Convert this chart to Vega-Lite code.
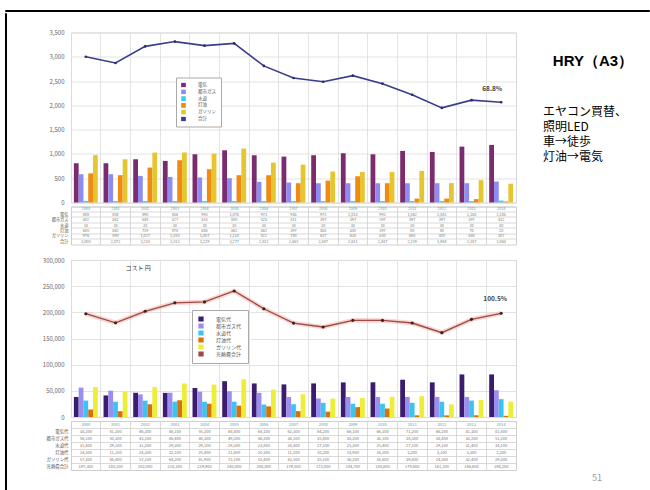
{
  "$schema": "https://vega.github.io/schema/vega-lite/v6.json",
  "padding": {"left": 4, "top": 9, "right": 0, "bottom": 0},
  "background": "white",
  "config": {
    "font": "Noto Sans CJK JP",
    "view": {"stroke": null},
    "axis": {"labelColor": "#666", "gridColor": "#dcdcdc", "gridWidth": 0.8}
  },
  "datasets": {
    "co2": [
      {"year": "2000", "電気": 808, "都市ガス": 582, "水道": 34, "灯油": 600, "ガソリン": 976, "合計": 3000},
      {"year": "2001", "電気": 808, "都市ガス": 582, "水道": 30, "灯油": 562, "ガソリン": 890, "合計": 2872},
      {"year": "2002", "電気": 890, "都市ガス": 548, "水道": 30, "灯油": 719, "ガソリン": 1027, "合計": 3214},
      {"year": "2003", "電気": 856, "都市ガス": 527, "水道": 30, "灯油": 870, "ガソリン": 1030, "合計": 3313},
      {"year": "2004", "電気": 993, "都市ガス": 514, "水道": 30, "灯油": 685, "ガソリン": 1007, "合計": 3229},
      {"year": "2005", "電気": 1075, "都市ガス": 500, "水道": 30, "灯油": 562, "ガソリン": 1110, "合計": 3277},
      {"year": "2006", "電気": 973, "都市ガス": 425, "水道": 30, "灯油": 562, "ガソリン": 822, "合計": 2812},
      {"year": "2007", "電気": 945, "都市ガス": 411, "水道": 30, "灯油": 397, "ガソリン": 780, "合計": 2563},
      {"year": "2008", "電気": 973, "都市ガス": 397, "水道": 30, "灯油": 450, "ガソリン": 637, "合計": 2487},
      {"year": "2009", "電気": 1014, "都市ガス": 397, "水道": 30, "灯油": 540, "ガソリン": 630, "合計": 2611},
      {"year": "2010", "電気": 993, "都市ガス": 397, "水道": 30, "灯油": 397, "ガソリン": 630, "合計": 2447},
      {"year": "2011", "電気": 1062, "都市ガス": 397, "水道": 30, "灯油": 80, "ガソリン": 650, "合計": 2219},
      {"year": "2012", "電気": 1041, "都市ガス": 397, "水道": 30, "灯油": 80, "ガソリン": 400, "合計": 1948},
      {"year": "2013", "電気": 1150, "都市ガス": 397, "水道": 30, "灯油": 70, "ガソリン": 460, "合計": 2107},
      {"year": "2014", "電気": 1185, "都市ガス": 432, "水道": 40, "灯油": 20, "ガソリン": 387, "合計": 2064, "ratio": "68.8%"}
    ],
    "cost": [
      {"year": "2000", "電気代": 38200, "都市ガス代": 56100, "水道代": 31400, "灯油代": 14300, "ガソリン代": 57300, "光熱費合計": 197300},
      {"year": "2001", "電気代": 41200, "都市ガス代": 50300, "水道代": 29100, "灯油代": 11100, "ガソリン代": 48400, "光熱費合計": 180100},
      {"year": "2002", "電気代": 46300, "都市ガス代": 43100, "水道代": 31200, "灯油代": 24300, "ガソリン代": 57100, "光熱費合計": 202000},
      {"year": "2003", "電気代": 46100, "都市ガス代": 46400, "水道代": 29300, "灯油代": 32100, "ガソリン代": 64200, "光熱費合計": 218100},
      {"year": "2004", "電気代": 55200, "都市ガス代": 48300, "水道代": 29100, "灯油代": 25400, "ガソリン代": 61900, "光熱費合計": 219900},
      {"year": "2005", "電気代": 68400, "都市ガス代": 49200, "水道代": 29300, "灯油代": 21800, "ガソリン代": 72100, "光熱費合計": 240800},
      {"year": "2006", "電気代": 64100, "都市ガス代": 46200, "水道代": 23800, "灯油代": 20300, "ガソリン代": 52400, "光熱費合計": 206800},
      {"year": "2007", "電気代": 62300, "都市ガス代": 38100, "水道代": 24400, "灯油代": 11200, "ガソリン代": 43500, "光熱費合計": 179500},
      {"year": "2008", "電気代": 64200, "都市ガス代": 35400, "水道代": 27100, "灯油代": 10200, "ガソリン代": 35100, "光熱費合計": 172000},
      {"year": "2009", "電気代": 66100, "都市ガス代": 38200, "水道代": 25300, "灯油代": 18900, "ガソリン代": 36200, "光熱費合計": 184700},
      {"year": "2010", "電気代": 66300, "都市ガス代": 38100, "水道代": 25400, "灯油代": 16200, "ガソリン代": 38600, "光熱費合計": 184600},
      {"year": "2011", "電気代": 71200, "都市ガス代": 38300, "水道代": 27100, "灯油代": 3200, "ガソリン代": 39800, "光熱費合計": 179600},
      {"year": "2012", "電気代": 66200, "都市ガス代": 38400, "水道代": 29100, "灯油代": 3100, "ガソリン代": 24300, "光熱費合計": 161100},
      {"year": "2013", "電気代": 81300, "都市ガス代": 38200, "水道代": 31400, "灯油代": 3300, "ガソリン代": 32400, "光熱費合計": 186600},
      {"year": "2014", "電気代": 81400, "都市ガス代": 51200, "水道代": 34100, "灯油代": 2200, "ガソリン代": 29300, "光熱費合計": 198200, "ratio": "100.5%"}
    ]
  },
  "spacing": 0,
  "resolve": {"scale": {"x": "independent", "y": "independent", "color": "independent"}},
  "vconcat": [
    {
      "width": 644, "height": 1,
      "view": {"stroke": "#000", "strokeWidth": 1},
      "data": {"values": [{"t": ""}]},
      "mark": {"type": "text", "fontSize": 0},
      "encoding": {"text": {"field": "t"}}
    },
    {
      "spacing": 0,
      "resolve": {"scale": {"x": "independent", "y": "independent", "color": "independent"}},
      "hconcat": [
        {
          "width": 1, "height": 477,
          "view": {"stroke": "#000", "strokeWidth": 1},
          "data": {"values": [{"t": ""}]},
          "mark": {"type": "text", "fontSize": 0},
          "encoding": {"text": {"field": "t"}}
        },
        {
          "spacing": 14.5,
          "resolve": {"scale": {"x": "independent", "y": "independent", "color": "independent"}},
          "vconcat": [
            {
              "width": 1, "height": 1,
              "data": {"values": [{"t": ""}]},
              "mark": {"type": "text", "fontSize": 0},
              "encoding": {"text": {"field": "t"}}
            },
            {
              "spacing": 26,
              "resolve": {"scale": {"x": "independent", "y": "independent", "color": "independent"}},
              "hconcat": [
                {
                  "spacing": 10.5,
                  "resolve": {"scale": {"x": "independent", "y": "independent", "color": "independent", "xOffset": "independent"}, "legend": {"color": "independent"}},
                  "vconcat": [
                    {
                      "spacing": -5.5,
                      "resolve": {"scale": {"x": "independent", "y": "independent", "color": "independent", "xOffset": "independent"}},
                      "vconcat": [
                        {
                          "width": 445, "height": 170,
                          "view": {"stroke": "#d8d8d8"},
                          "data": {"name": "co2"},
                          "layer": [
                            {
                              "transform": [{"fold": ["電気", "都市ガス", "水道", "灯油", "ガソリン"], "as": ["series", "value"]}],
                              "mark": {"type": "bar"},
                              "encoding": {
                                "x": {"field": "year", "type": "ordinal", "scale": {"type": "band", "paddingInner": 0, "paddingOuter": 0}, "axis": {"title": null, "labels": false, "ticks": false, "domain": false, "grid": true, "bandPosition": 0}},
                                "xOffset": {"field": "series", "type": "nominal", "scale": {"domain": ["電気", "都市ガス", "水道", "灯油", "ガソリン"], "paddingInner": 0, "paddingOuter": 0.6}},
                                "y": {"field": "value", "type": "quantitative", "scale": {"domain": [0, 3500], "nice": false}, "axis": {"title": null, "values": [0, 500, 1000, 1500, 2000, 2500, 3000, 3500], "tickCount": 30, "format": ",.0f", "labelOverlap": false, "labelFontSize": 6, "labelPadding": 7, "ticks": false, "domain": false, "minExtent": 63, "maxExtent": 63}},
                                "color": {"field": "series", "type": "nominal", "scale": {"domain": ["電気", "都市ガス", "水道", "灯油", "ガソリン", "合計"], "range": ["#7b2c6e", "#8e8cf2", "#3cd0ee", "#ef8a12", "#e6c630", "#3c3c8c"]}, "legend": {"orient": "none", "legendX": 105, "legendY": 45, "title": null, "symbolType": "square", "symbolSize": 10, "labelFontSize": 4.5, "labelColor": "#555", "labelOffset": 12, "rowPadding": 0.8, "clipHeight": 5, "padding": 5, "labelLimit": 60, "fillColor": "white", "strokeColor": "#aaa"}}
                              }
                            },
                            {
                              "mark": {"type": "line", "strokeWidth": 1.6},
                              "encoding": {
                                "x": {"field": "year", "type": "ordinal"},
                                "y": {"field": "合計", "type": "quantitative", "axis": {"title": null, "values": [0, 500, 1000, 1500, 2000, 2500, 3000, 3500], "tickCount": 30, "format": ",.0f", "labelOverlap": false, "labelFontSize": 6, "labelPadding": 7, "ticks": false, "domain": false, "minExtent": 63, "maxExtent": 63}},
                                "color": {"datum": "合計"}
                              }
                            },
                            {
                              "mark": {"type": "point", "filled": true, "size": 7, "opacity": 1},
                              "encoding": {
                                "x": {"field": "year", "type": "ordinal"},
                                "y": {"field": "合計", "type": "quantitative", "axis": {"title": null, "values": [0, 500, 1000, 1500, 2000, 2500, 3000, 3500], "tickCount": 30, "format": ",.0f", "labelOverlap": false, "labelFontSize": 6, "labelPadding": 7, "ticks": false, "domain": false, "minExtent": 63, "maxExtent": 63}},
                                "color": {"value": "#2a2a70"}
                              }
                            },
                            {
                              "transform": [{"filter": "isValid(datum.ratio)"}],
                              "mark": {"type": "text", "fontSize": 6.5, "fontWeight": "bold", "color": "#444", "dx": -9, "dy": -13},
                              "encoding": {
                                "x": {"field": "year", "type": "ordinal"},
                                "y": {"field": "合計", "type": "quantitative", "axis": {"title": null, "values": [0, 500, 1000, 1500, 2000, 2500, 3000, 3500], "tickCount": 30, "format": ",.0f", "labelOverlap": false, "labelFontSize": 6, "labelPadding": 7, "ticks": false, "domain": false, "minExtent": 63, "maxExtent": 63}},
                                "text": {"field": "ratio"}
                              }
                            }
                          ]
                        },
                        {
                          "width": 445, "height": 38,
                          "view": {"stroke": "#cfcfcf"},
                          "data": {"name": "co2"},
                          "layer": [
                            {
                              "transform": [{"fold": ["電気", "都市ガス", "水道", "灯油", "ガソリン", "合計"], "as": ["series", "value"]}],
                              "mark": {"type": "text", "fontSize": 3.8, "color": "#777"},
                              "encoding": {
                                "x": {"field": "year", "type": "ordinal", "scale": {"type": "band", "paddingInner": 0, "paddingOuter": 0}, "axis": {"title": null, "labels": false, "ticks": false, "domain": false, "grid": true, "bandPosition": 0, "gridColor": "#cfcfcf"}},
                                "y": {"field": "series", "type": "nominal", "scale": {"type": "band", "domain": [" ", "電気", "都市ガス", "水道", "灯油", "ガソリン", "合計"], "paddingInner": 0, "paddingOuter": 0}, "axis": {"title": null, "ticks": false, "domain": false, "grid": true, "bandPosition": 0, "gridColor": "#cfcfcf", "labelFontSize": 4.2, "labelColor": "#555", "labelPadding": 3, "minExtent": 63, "maxExtent": 63}},
                                "text": {"field": "value", "type": "quantitative", "format": ","}
                              }
                            },
                            {
                              "mark": {"type": "text", "fontSize": 3.8, "color": "#4aa8b0"},
                              "encoding": {
                                "x": {"field": "year", "type": "ordinal"},
                                "y": {"datum": " "},
                                "text": {"field": "year"}
                              }
                            }
                          ]
                        }
                      ]
                    },
                    {
                      "spacing": -5.5,
                      "resolve": {"scale": {"x": "independent", "y": "independent", "color": "independent", "xOffset": "independent"}},
                      "vconcat": [
                        {
                          "width": 445, "height": 157,
                          "view": {"stroke": "#d8d8d8"},
                          "data": {"name": "cost"},
                          "layer": [
                            {
                              "transform": [{"fold": ["電気代", "都市ガス代", "水道代", "灯油代", "ガソリン代"], "as": ["series", "value"]}],
                              "mark": {"type": "bar"},
                              "encoding": {
                                "x": {"field": "year", "type": "ordinal", "scale": {"type": "band", "paddingInner": 0, "paddingOuter": 0}, "axis": {"title": null, "labels": false, "ticks": false, "domain": false, "grid": true, "bandPosition": 0}},
                                "xOffset": {"field": "series", "type": "nominal", "scale": {"domain": ["電気代", "都市ガス代", "水道代", "灯油代", "ガソリン代"], "paddingInner": 0, "paddingOuter": 0.6}},
                                "y": {"field": "value", "type": "quantitative", "scale": {"domain": [0, 300000], "nice": false}, "axis": {"title": null, "values": [0, 50000, 100000, 150000, 200000, 250000, 300000], "tickCount": 30, "format": ",.0f", "labelOverlap": false, "labelFontSize": 6, "labelPadding": 7, "ticks": false, "domain": false, "minExtent": 63, "maxExtent": 63}},
                                "color": {"field": "series", "type": "nominal", "scale": {"domain": ["電気代", "都市ガス代", "水道代", "灯油代", "ガソリン代", "光熱費合計"], "range": ["#3b1c6e", "#9a8ef0", "#3cc4f0", "#d9700c", "#eeee38", "#9c4a44"]}, "legend": {"orient": "none", "legendX": 121, "legendY": 50, "title": null, "symbolType": "square", "symbolSize": 14, "labelFontSize": 5, "labelColor": "#555", "labelOffset": 12, "rowPadding": 1, "clipHeight": 6, "padding": 6, "labelLimit": 60, "fillColor": "white", "strokeColor": "#aaa"}}
                              }
                            },
                            {
                              "mark": {"type": "line", "strokeWidth": 4.5, "color": "#f4b4ac", "opacity": 0.55},
                              "encoding": {
                                "x": {"field": "year", "type": "ordinal"},
                                "y": {"field": "光熱費合計", "type": "quantitative", "axis": {"title": null, "values": [0, 50000, 100000, 150000, 200000, 250000, 300000], "tickCount": 30, "format": ",.0f", "labelOverlap": false, "labelFontSize": 6, "labelPadding": 7, "ticks": false, "domain": false, "minExtent": 63, "maxExtent": 63}}
                              }
                            },
                            {
                              "mark": {"type": "line", "strokeWidth": 1.3},
                              "encoding": {
                                "x": {"field": "year", "type": "ordinal"},
                                "y": {"field": "光熱費合計", "type": "quantitative", "axis": {"title": null, "values": [0, 50000, 100000, 150000, 200000, 250000, 300000], "tickCount": 30, "format": ",.0f", "labelOverlap": false, "labelFontSize": 6, "labelPadding": 7, "ticks": false, "domain": false, "minExtent": 63, "maxExtent": 63}},
                                "color": {"datum": "光熱費合計"}
                              }
                            },
                            {
                              "mark": {"type": "point", "filled": true, "size": 10, "opacity": 1},
                              "encoding": {
                                "x": {"field": "year", "type": "ordinal"},
                                "y": {"field": "光熱費合計", "type": "quantitative", "axis": {"title": null, "values": [0, 50000, 100000, 150000, 200000, 250000, 300000], "tickCount": 30, "format": ",.0f", "labelOverlap": false, "labelFontSize": 6, "labelPadding": 7, "ticks": false, "domain": false, "minExtent": 63, "maxExtent": 63}},
                                "color": {"value": "#3a2222"}
                              }
                            },
                            {
                              "transform": [{"filter": "isValid(datum.ratio)"}],
                              "mark": {"type": "text", "fontSize": 6.5, "fontWeight": "bold", "color": "#444", "dx": -6, "dy": -14},
                              "encoding": {
                                "x": {"field": "year", "type": "ordinal"},
                                "y": {"field": "光熱費合計", "type": "quantitative", "axis": {"title": null, "values": [0, 50000, 100000, 150000, 200000, 250000, 300000], "tickCount": 30, "format": ",.0f", "labelOverlap": false, "labelFontSize": 6, "labelPadding": 7, "ticks": false, "domain": false, "minExtent": 63, "maxExtent": 63}},
                                "text": {"field": "ratio"}
                              }
                            },
                            {
                              "data": {"values": [{"label": "コスト 円"}]},
                              "mark": {"type": "text", "fontSize": 6, "color": "#333", "dx": -7},
                              "encoding": {
                                "x": {"datum": "2002"},
                                "y": {"datum": 284000},
                                "text": {"field": "label"}
                              }
                            }
                          ]
                        },
                        {
                          "width": 445, "height": 49,
                          "view": {"stroke": "#cfcfcf"},
                          "data": {"name": "cost"},
                          "layer": [
                            {
                              "transform": [{"fold": ["電気代", "都市ガス代", "水道代", "灯油代", "ガソリン代", "光熱費合計"], "as": ["series", "value"]}],
                              "mark": {"type": "text", "fontSize": 4, "color": "#777"},
                              "encoding": {
                                "x": {"field": "year", "type": "ordinal", "scale": {"type": "band", "paddingInner": 0, "paddingOuter": 0}, "axis": {"title": null, "labels": false, "ticks": false, "domain": false, "grid": true, "bandPosition": 0, "gridColor": "#cfcfcf"}},
                                "y": {"field": "series", "type": "nominal", "scale": {"type": "band", "domain": [" ", "電気代", "都市ガス代", "水道代", "灯油代", "ガソリン代", "光熱費合計"], "paddingInner": 0, "paddingOuter": 0}, "axis": {"title": null, "ticks": false, "domain": false, "grid": true, "bandPosition": 0, "gridColor": "#cfcfcf", "labelFontSize": 4.4, "labelColor": "#555", "labelPadding": 3, "minExtent": 63, "maxExtent": 63}},
                                "text": {"field": "value", "type": "quantitative", "format": ","}
                              }
                            },
                            {
                              "mark": {"type": "text", "fontSize": 4, "color": "#4aa8b0"},
                              "encoding": {
                                "x": {"field": "year", "type": "ordinal"},
                                "y": {"datum": " "},
                                "text": {"field": "year"}
                              }
                            }
                          ]
                        }
                      ]
                    }
                  ]
                },
                {
                  "spacing": 304,
                  "resolve": {"scale": {"x": "independent", "y": "independent"}},
                  "vconcat": [
                    {
                      "spacing": 14.5,
                      "resolve": {"scale": {"x": "independent", "y": "independent"}},
                      "vconcat": [
                        {
                          "width": 100, "height": 57,
                          "data": {"values": [{"label": "HRY（A3）"}]},
                          "mark": {"type": "text", "fontSize": 15, "fontWeight": "bold", "color": "#000", "font": "Liberation Sans"},
                          "encoding": {"text": {"field": "label"}}
                        },
                        {
                          "width": 100, "height": 61,
                          "data": {"values": [
                            {"line": 1, "text": "エヤコン買替、"},
                            {"line": 2, "text": "照明LED"},
                            {"line": 3, "text": "車→徒歩"},
                            {"line": 4, "text": "灯油→電気"}
                          ]},
                          "mark": {"type": "text", "fontSize": 12, "align": "left", "baseline": "middle", "color": "#000"},
                          "encoding": {
                            "x": {"value": 0},
                            "y": {"field": "line", "type": "ordinal", "scale": {"type": "band", "paddingInner": 0, "paddingOuter": 0}, "axis": null},
                            "text": {"field": "text"}
                          }
                        }
                      ]
                    },
                    {
                      "width": 100, "height": 16,
                      "data": {"values": [{"page": "51"}]},
                      "mark": {"type": "text", "fontSize": 9, "color": "#999", "dx": 4},
                      "encoding": {"text": {"field": "page"}}
                    }
                  ]
                }
              ]
            }
          ]
        }
      ]
    }
  ]
}
